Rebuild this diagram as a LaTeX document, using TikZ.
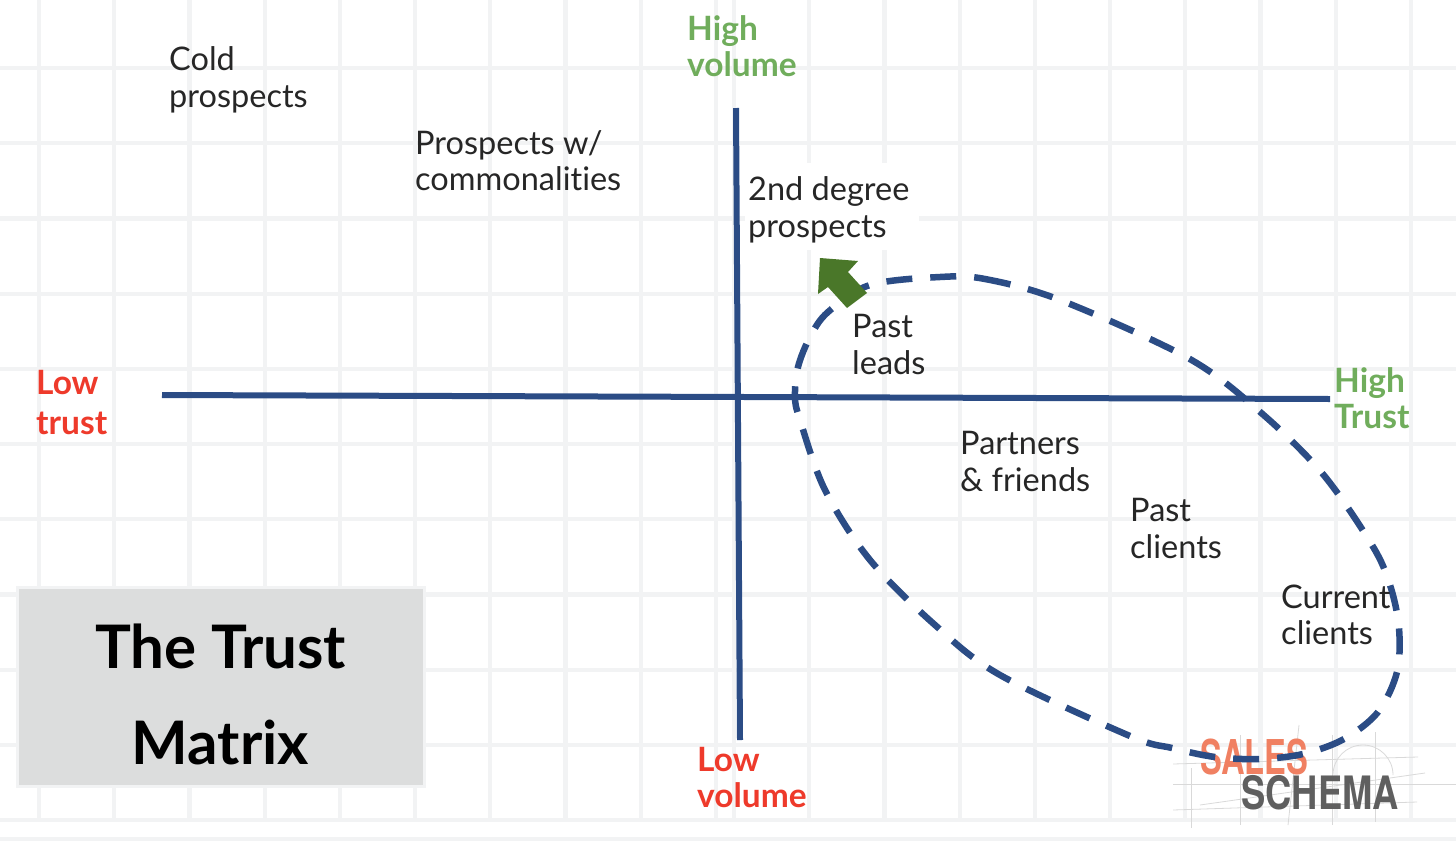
\documentclass[tikz,border=0pt]{standalone}
\usepackage{fontspec}
\setmainfont{Lato}[Ligatures=NoCommon]
\usepackage{tikz}
\usetikzlibrary{calc,positioning}
\usepackage{xcolor}
\definecolor{gridGray}{RGB}{242,243,244}
\definecolor{axisBlue}{RGB}{43,76,133}
\definecolor{highGreen}{RGB}{112,173,92}
\definecolor{lowRed}{RGB}{238,58,43}
\definecolor{arrowGreen}{RGB}{74,119,41}
\definecolor{titleGray}{RGB}{220,221,221}
\definecolor{salesOrange}{RGB}{240,128,98}
\definecolor{schemaGray}{RGB}{95,95,95}
\newfontfamily\logofont{TeX Gyre Heros}
\tikzset{
  label/.style={anchor=north west,align=left,inner sep=0pt,text=black!85,font=\fontsize{32.5}{37}\selectfont},
  high/.style={label,text=highGreen,font=\fontsize{33.5}{36}\selectfont\bfseries},
  low/.style={label,text=lowRed,font=\fontsize{33.5}{36}\selectfont\bfseries},
  axis/.style={axisBlue,line width=6pt},
  sketch/.style={black!15,line width=0.8pt}
}
\begin{document}
\begin{tikzpicture}[x=1pt,y=-1pt]
  \useasboundingbox (0,0) rectangle (1456,841);
  % grid
  \foreach \k in {0,...,9} \draw[gridGray,line width=4.2pt] (39+75.2*\k,0)--(39+75.2*\k,820);
  \foreach \k in {0,...,9} \draw[gridGray,line width=4.2pt] (734+75.2*\k,0)--(734+75.2*\k,820);
  \foreach \k in {0,...,10} \draw[gridGray,line width=4.2pt] (0,68+75.2*\k)--(1456,68+75.2*\k);
  \fill[gridGray] (0,837) rectangle (1456,841);
  % white patch behind the 2nd degree text
  \fill[white] (745,163) rectangle (919,250);
  % logo construction lines
  \draw[sketch] (1173,764)--(1418,757);
  \draw[sketch] (1173,784)--(1456,784);
  \draw[sketch] (1173,810)--(1417,802);
  \draw[sketch] (1200,805)--(1425,773);
  \foreach \x/\a/\b in {1191/768/828,1240/735/825,1332/735/825,1375/732/822} \draw[sketch] (\x,\a)--(\x,\b);
  \draw[sketch] (1299,725)--(1288,825);
  \draw[sketch] (1333,775) arc[start angle=180,end angle=0,x radius=30,y radius=-30];
  \node[anchor=base west,inner sep=0pt,text=salesOrange,xscale=0.68,font=\logofont\fontsize{48}{48}\selectfont\bfseries] (salesWord) at (1200,774) {SALES};
  \node[anchor=base west,inner sep=0pt,text=schemaGray,xscale=0.79,font=\logofont\fontsize{46}{46}\selectfont\bfseries] (schemaWord) at (1241,809) {SCHEMA};
  % title box
  \node[fill=titleGray,draw=gridGray,line width=3pt,minimum width=407pt,minimum height=199pt,align=center,inner sep=0pt,
        font=\fontsize{60}{96}\selectfont\bfseries] (titleBox) at (220.5,686.5) {\rule{0pt}{60pt}The Trust\\Matrix};
  % axes
  \coordinate (trustLow) at (162,395);
  \coordinate (trustHigh) at (1330,399);
  \coordinate (volumeHigh) at (736,108);
  \coordinate (volumeLow) at (740,740);
  \draw[axis] (trustLow)--(trustHigh);
  \draw[axis] (volumeHigh)--(volumeLow);
  % dashed loop round the warm contacts
  \draw[axisBlue,line width=6.5pt,dash pattern=on 26pt off 18pt] plot[smooth cycle,tension=0.55] coordinates {
    (940,277) (985,279) (1060,300) (1188,358) (1259,411) (1322,473) (1372,545) (1390,585) (1399,628) (1397,672) (1378,712)
    (1344,739) (1303,754) (1259,759) (1215,757) (1172,748) (1130,736) (1000,675) (935,625) (870,560) (825,490)
    (800,420) (795,397) (798,367) (810,337) (828,312) (870,285)};
  % green arrow
  \fill[arrowGreen] (820,258)--(858,261)--(848,272)--(867,293)--(847,308)--(828,287)--(818,294)--cycle;
  % labels
  \node[label] (coldProspects) at (169,46) {Cold\\prospects};
  \node[label] (commonProspects) at (415,130) {Prospects w/\\[-1pt]commonalities};
  \node[label] (secondDegree) at (748,176) {2nd degree\\prospects};
  \node[label] (pastLeads) at (852,314) {Past\\leads};
  \node[label] (partnersFriends) at (960,431) {Partners\\\& friends};
  \node[label] (pastClients) at (1130,498) {Past\\clients};
  \node[label] (currentClients) at (1281,585) {Current\\[-1pt]clients};
  \node[high] (highVolume) at (687,15) {High\\volume};
  \node[high] (highTrust) at (1334,367) {High\\Trust};
  \node[low] (lowTrust) at (36,370) {Low\\[4pt]trust};
  \node[low] (lowVolume) at (697,747) {Low\\volume};
\end{tikzpicture}
\end{document}
